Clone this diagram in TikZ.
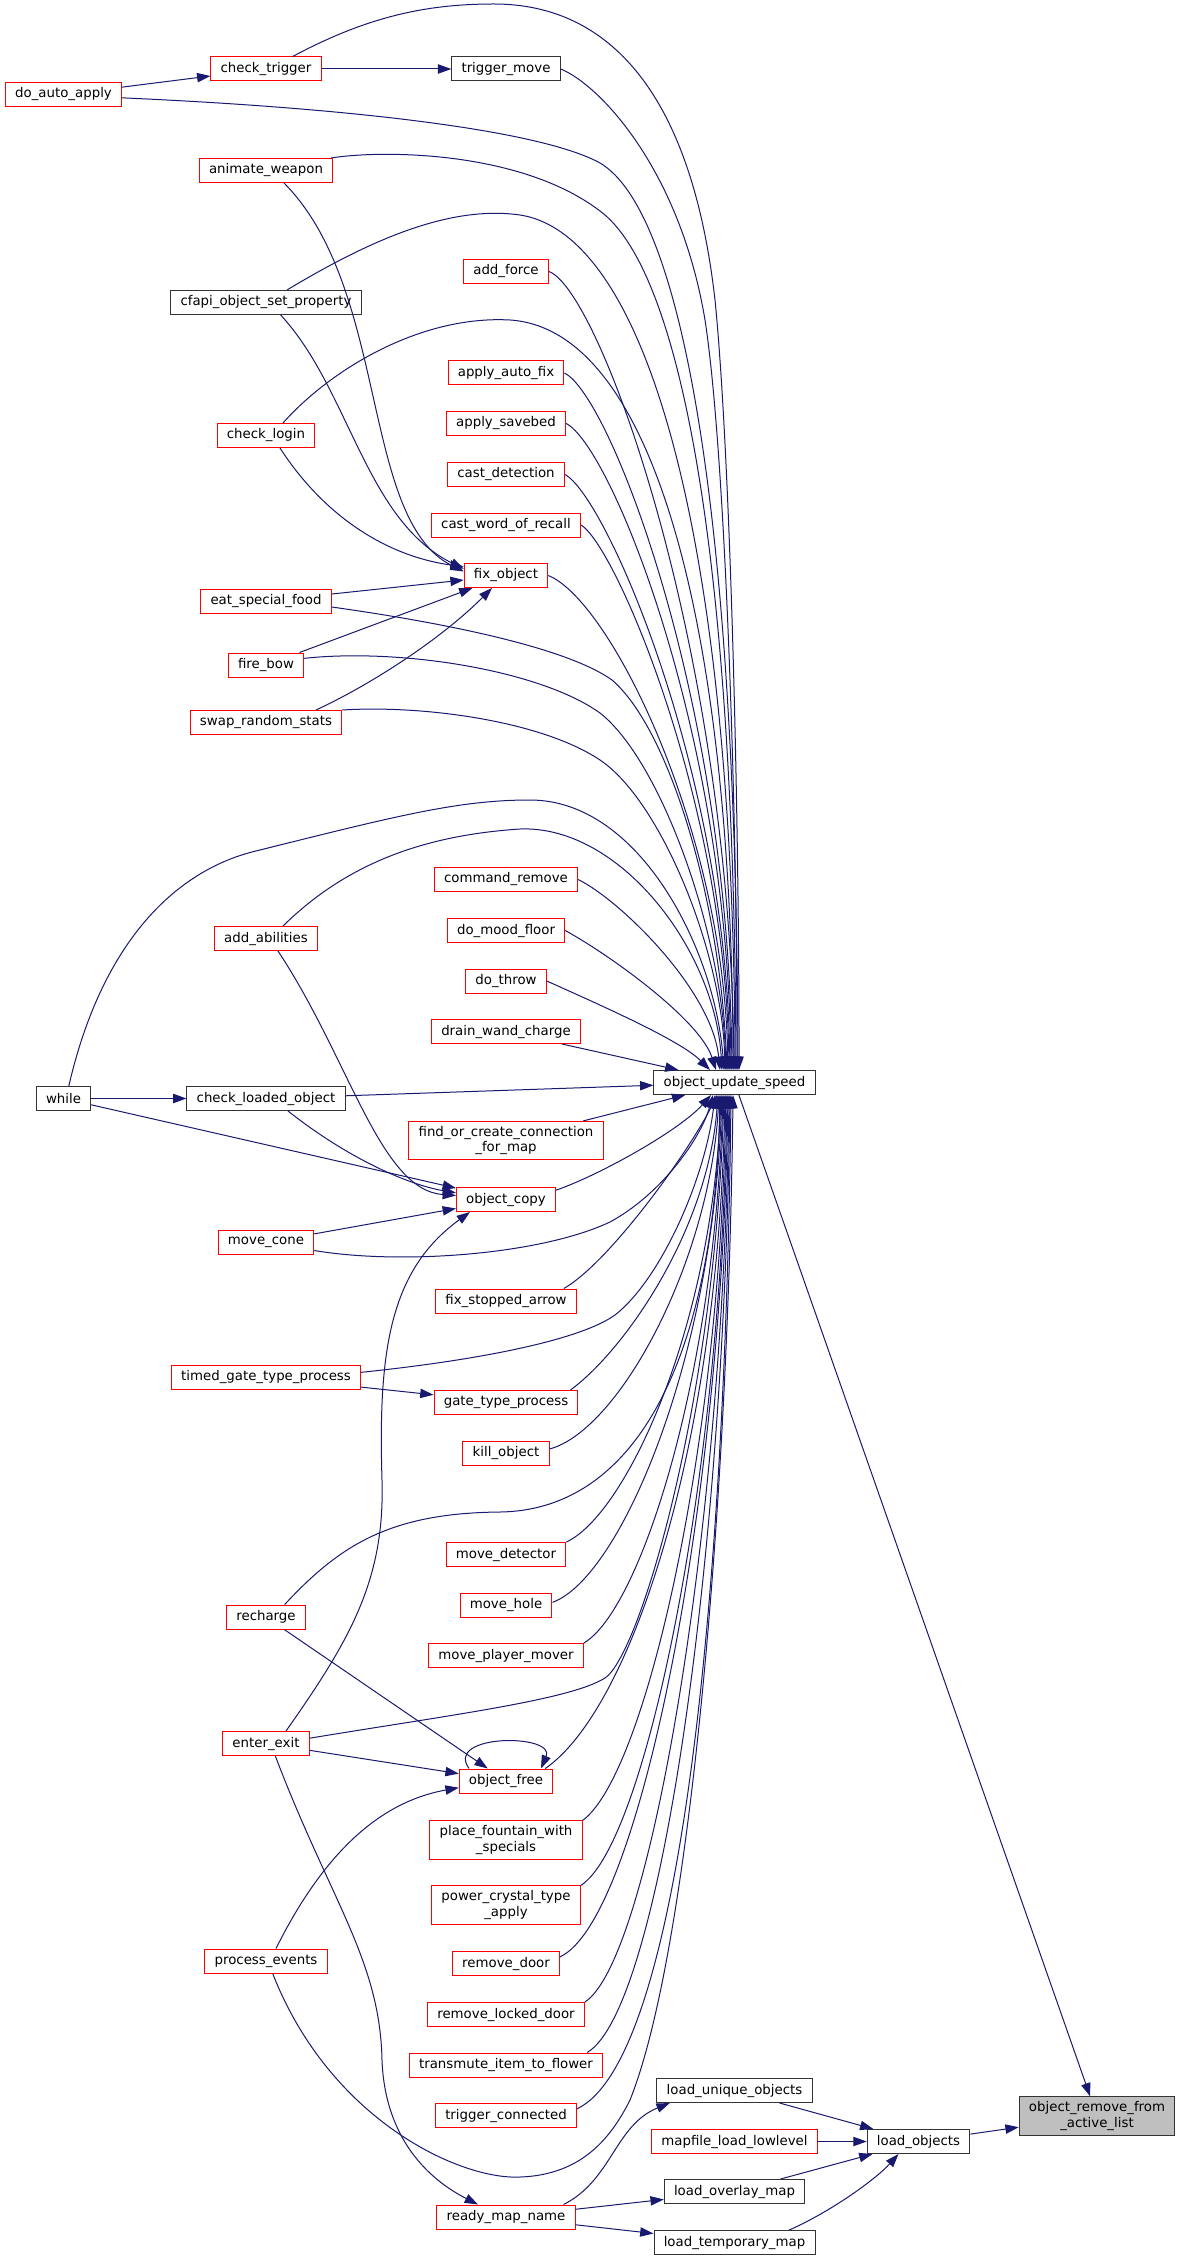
\documentclass[tikz,border=0pt]{standalone}
\usepackage{fontspec}
\setmainfont{DejaVu Sans}
\usetikzlibrary{arrows.meta}
\definecolor{edgeblue}{HTML}{191970}

\begin{document}
\begin{tikzpicture}[x=0.75pt,y=-0.75pt,
  fn/.style={draw=red,fill=white,line width=0.75pt,font=\fontsize{10}{11.5}\selectfont,
    inner xsep=7.3pt,inner ysep=3.6pt,minimum height=18pt,align=center},
  doc/.style={fn,draw=black!80},
  focus/.style={fn,draw=black!80,fill=black!25},
  call/.style={draw=edgeblue,line width=0.75pt,-{Triangle[length=10pt,width=7pt]}}]
  \fill[white] (0,0) rectangle (1181,2261);
  \useasboundingbox (0,0) rectangle (1181,2261);

  % left columns
  \node[fn] (do-auto-apply) at (63.5,94.5) {do\_auto\_apply};
  \node[doc] (while) at (63.5,1098.5) {while};
  \node[fn] (check-trigger) at (266,69) {check\_trigger};
  \node[fn] (animate-weapon) at (266,170.5) {animate\_weapon};
  \node[doc] (cfapi) at (266,302.5) {cfapi\_object\_set\_property};
  \node[fn] (check-login) at (266,435.5) {check\_login};
  \node[fn] (eat-food) at (266,601) {eat\_special\_food};
  \node[fn] (fire-bow) at (266,665) {fire\_bow};
  \node[fn] (swap-stats) at (266,722.5) {swap\_random\_stats};
  \node[fn] (add-abilities) at (266,938.5) {add\_abilities};
  \node[doc] (check-loaded) at (266,1098.5) {check\_loaded\_object};
  \node[fn] (move-cone) at (266,1242.5) {move\_cone};
  \node[fn] (timed-gate) at (266,1377) {timed\_gate\_type\_process};
  \node[fn] (recharge) at (266,1617) {recharge};
  \node[fn] (enter-exit) at (266,1743.5) {enter\_exit};
  \node[fn] (process-events) at (266,1961) {process\_events};

  % middle column
  \node[doc] (trigger-move) at (506,69) {trigger\_move};
  \node[fn] (add-force) at (506,271.5) {add\_force};
  \node[fn] (apply-fix) at (506,373) {apply\_auto\_fix};
  \node[fn] (apply-savebed) at (506,423.5) {apply\_savebed};
  \node[fn] (cast-detection) at (506,474.5) {cast\_detection};
  \node[fn] (cast-recall) at (506,525) {cast\_word\_of\_recall};
  \node[fn] (fix-object) at (506,575.5) {fix\_object};
  \node[fn] (command-remove) at (506,879.5) {command\_remove};
  \node[fn] (mood-floor) at (506,930.5) {do\_mood\_floor};
  \node[fn] (do-throw) at (506,981) {do\_throw};
  \node[fn] (drain-wand) at (506,1031.5) {drain\_wand\_charge};
  \node[fn] (find-conn) at (506,1140.5) {find\_or\_create\_connection\\\_for\_map};
  \node[fn] (object-copy) at (506,1199.5) {object\_copy};
  \node[fn] (fix-arrow) at (506,1301) {fix\_stopped\_arrow};
  \node[fn] (gate-type) at (506,1402.5) {gate\_type\_process};
  \node[fn] (kill-object) at (506,1453) {kill\_object};
  \node[fn] (move-detector) at (506,1554.5) {move\_detector};
  \node[fn] (move-hole) at (506,1605) {move\_hole};
  \node[fn] (move-mover) at (506,1655.5) {move\_player\_mover};
  \node[fn] (object-free) at (506,1781) {object\_free};
  \node[fn] (place-fountain) at (506,1840) {place\_fountain\_with\\\_specials};
  \node[fn] (power-crystal) at (506,1905) {power\_crystal\_type\\\_apply};
  \node[fn] (remove-door) at (506,1963.5) {remove\_door};
  \node[fn] (remove-locked) at (506,2014.5) {remove\_locked\_door};
  \node[fn] (transmute) at (506,2065) {transmute\_item\_to\_flower};
  \node[fn] (trigger-conn) at (506,2115.5) {trigger\_connected};
  \node[fn] (ready-map) at (506,2217) {ready\_map\_name};

  % right columns
  \node[doc] (ous) at (734.5,1082.5) {object\_update\_speed};
  \node[doc] (load-unique) at (734.5,2090.5) {load\_unique\_objects};
  \node[fn] (mapfile) at (734.5,2141.5) {mapfile\_load\_lowlevel};
  \node[doc] (load-overlay) at (734.5,2191.5) {load\_overlay\_map};
  \node[doc] (load-temp) at (734.5,2242.5) {load\_temporary\_map};
  \node[doc] (load-objects) at (918.5,2141.5) {load\_objects};
  \node[focus] (remove-active) at (1097,2116) {object\_remove\_from\\\_active\_list};

  % straight calls
  \draw[call] (do-auto-apply) -- (check-trigger);
  \draw[call] (check-trigger) -- (trigger-move);
  \draw[call] (eat-food) -- (fix-object);
  \draw[call] (fire-bow) -- (fix-object);
  \draw[call] (while) -- (check-loaded);
  \draw[call] (while) -- (object-copy);
  \draw[call] (check-loaded) -- (ous);
  \draw[call] (drain-wand) -- (ous);
  \draw[call] (find-conn) -- (ous);
  \draw[call] (move-cone) -- (object-copy);
  \draw[call] (timed-gate) -- (gate-type);
  \draw[call] (recharge) -- (object-free);
  \draw[call] (enter-exit) -- (object-free);
  \draw[call] (ous) -- (remove-active);
  \draw[call] (load-objects) -- (remove-active);
  \draw[call] (load-unique) -- (load-objects);
  \draw[call] (mapfile) -- (load-objects);
  \draw[call] (load-overlay) -- (load-objects);
  \draw[call] (ready-map) -- (load-overlay);
  \draw[call] (ready-map) -- (load-temp);

  % calls into object_update_speed from above
  \draw[call] ([xshift=20pt]check-trigger.north) .. controls (370,15) and (430,4) .. (494,4)
    .. controls (600,4) and (690,80) .. (715,300) .. controls (730,450) and (739,800) .. ([xshift=3.4pt]ous.north);
  \draw[call] (trigger-move.east) .. controls (600,85) and (680,170) .. (705,320)
    .. controls (725,450) and (737,800) .. ([xshift=1.9pt]ous.north);
  \draw[call] ([yshift=-2.5pt]do-auto-apply.east) .. controls (350,108) and (540,130) .. (600,163)
    .. controls (680,210) and (736,500) .. ([xshift=2.6pt]ous.north);
  \draw[call] ([xshift=-1.5pt]animate-weapon.north east) .. controls (380,150) and (520,150) .. (600,211)
    .. controls (680,270) and (734,550) .. ([xshift=1.1pt]ous.north);
  \draw[call] ([xshift=15.75pt]cfapi.north) .. controls (370,240) and (450,205) .. (520,215)
    .. controls (650,235) and (733,550) .. ([xshift=0.4pt]ous.north);
  \draw[call] (add-force.east) .. controls (600,290) and (730,650) .. ([xshift=-0.4pt]ous.north);
  \draw[call] ([xshift=12.75pt]check-login.north) .. controls (330,370) and (420,315) .. (510,320)
    .. controls (660,330) and (732,650) .. ([xshift=-1.1pt]ous.north);
  \draw[call] (apply-fix.east) .. controls (610,395) and (728,700) .. ([xshift=-1.9pt]ous.north);
  \draw[call] (apply-savebed.east) .. controls (610,445) and (727,730) .. ([xshift=-2.6pt]ous.north);
  \draw[call] (cast-detection.east) .. controls (605,495) and (726,770) .. ([xshift=-3.4pt]ous.north);
  \draw[call] (cast-recall.east) .. controls (615,545) and (725,800) .. ([xshift=-4.1pt]ous.north);
  \draw[call] (fix-object.east) .. controls (610,600) and (724,830) .. ([xshift=-4.9pt]ous.north);
  \draw[call] ([yshift=-4.5pt]eat-food.east) .. controls (460,625) and (570,650) .. (612,680)
    .. controls (670,730) and (720,900) .. ([xshift=-5.6pt]ous.north);
  \draw[call] ([yshift=5pt]fire-bow.east) .. controls (400,648) and (540,670) .. (600,713)
    .. controls (660,760) and (722,930) .. ([xshift=-6.4pt]ous.north);
  \draw[call] (swap-stats.north east) .. controls (420,705) and (540,720) .. (600,760)
    .. controls (660,800) and (722,950) .. ([xshift=-7.1pt]ous.north);
  \draw[call] ([xshift=4pt]while.north) .. controls (100,950) and (170,870) .. (260,850)
    .. controls (400,815) and (460,800) .. (530,800) .. controls (640,800) and (715,950) .. ([xshift=-7.9pt]ous.north);
  \draw[call] ([xshift=12.75pt]add-abilities.north) .. controls (350,860) and (430,835) .. (520,829)
    .. controls (620,825) and (715,950) .. ([xshift=-9.4pt]ous.north);
  \draw[call] (command-remove.east) .. controls (620,900) and (712,990) .. ([xshift=-10.9pt]ous.north);
  \draw[call] (mood-floor.east) .. controls (610,955) and (700,1020) .. ([xshift=-13.9pt]ous.north);
  \draw[call] (do-throw.east) .. controls (600,1005) and (680,1040) .. ([xshift=-18.4pt]ous.north);

  % calls into object_update_speed from below
  \draw[call] ([yshift=7pt]object-copy.east) .. controls (600,1175) and (680,1130) .. ([xshift=-17.6pt]ous.south);
  \draw[call] ([yshift=-6pt]move-cone.east) .. controls (400,1265) and (540,1255) .. (610,1222)
    .. controls (660,1195) and (700,1140) .. ([xshift=-16.1pt]ous.south);
  \draw[call] ([yshift=3.5pt]timed-gate.east) .. controls (480,1360) and (580,1340) .. (615,1315)
    .. controls (660,1280) and (705,1180) .. ([xshift=-14.6pt]ous.south);
  \draw[call] ([xshift=-9.75pt]fix-arrow.north east) .. controls (610,1262) and (690,1150) .. ([xshift=-13.1pt]ous.south);
  \draw[call] ([xshift=-6pt]gate-type.north east) .. controls (625,1350) and (708,1230) .. ([xshift=-12.4pt]ous.south);
  \draw[call] ([yshift=3pt]kill-object.east) .. controls (620,1430) and (710,1260) .. ([xshift=-11.6pt]ous.south);
  \draw[call] ([xshift=14pt]recharge.north) .. controls (340,1545) and (390,1513) .. (500,1512)
    .. controls (640,1510) and (715,1350) .. ([xshift=-10.9pt]ous.south);
  \draw[call] (move-detector.north east) .. controls (625,1515) and (712,1330) .. ([xshift=-10.1pt]ous.south);
  \draw[call] ([yshift=2pt]move-hole.east) .. controls (620,1578) and (713,1360) .. ([xshift=-9.4pt]ous.south);
  \draw[call] (move-mover.north east) .. controls (640,1610) and (714,1380) .. ([xshift=-8.6pt]ous.south);
  \draw[call] ([yshift=4pt]enter-exit.east) .. controls (450,1715) and (570,1700) .. (605,1678)
    .. controls (640,1655) and (715,1400) .. ([xshift=-7.9pt]ous.south);
  \draw[call] ([xshift=-6pt]object-free.north east) .. controls (630,1710) and (718,1450) .. ([xshift=-7.1pt]ous.south);
  \draw[call] (place-fountain.north east) .. controls (645,1775) and (720,1450) .. ([xshift=-6.4pt]ous.south);
  \draw[call] (power-crystal.north east) .. controls (645,1845) and (721,1480) .. ([xshift=-5.6pt]ous.south);
  \draw[call] ([yshift=5pt]remove-door.east) .. controls (640,1920) and (722,1500) .. ([xshift=-4.9pt]ous.south);
  \draw[call] (remove-locked.north east) .. controls (650,1960) and (723,1530) .. ([xshift=-4.1pt]ous.south);
  \draw[call] ([xshift=-12pt]transmute.north east) .. controls (660,2010) and (724,1560) .. ([xshift=-3.4pt]ous.south);
  \draw[call] ([yshift=5pt]trigger-conn.east) .. controls (680,2060) and (725,1600) .. ([xshift=-2.6pt]ous.south);
  \draw[call] ([xshift=5pt]process-events.south) .. controls (330,2120) and (460,2180) .. (520,2177)
    .. controls (580,2175) and (610,2140) .. (630,2100) .. controls (690,1950) and (728,1500) .. ([xshift=-1.1pt]ous.south);

  % other calls
  \draw[call] ([xshift=13.5pt]animate-weapon.south) .. controls (390,290) and (360,520) .. ([yshift=3pt]fix-object.west);
  \draw[call] ([xshift=11pt]cfapi.south) .. controls (350,390) and (365,520) .. ([yshift=5pt]fix-object.west);
  \draw[call] ([xshift=10.5pt]check-login.south) .. controls (320,510) and (380,555) .. ([yshift=6.5pt]fix-object.west);
  \draw[call] ([xshift=37.5pt]swap-stats.north) .. controls (370,685) and (440,640) .. ([xshift=-10.5pt]fix-object.south);
  \draw[call] ([xshift=9pt]add-abilities.south) .. controls (350,1060) and (380,1190) .. ([yshift=3pt]object-copy.west);
  \draw[call] ([xshift=16.5pt]check-loaded.south) .. controls (350,1160) and (410,1185) .. ([yshift=5pt]object-copy.west);
  \draw[call] ([xshift=15pt]enter-exit.north) .. controls (350,1640) and (385,1580) .. (382,1480)
    .. controls (378,1350) and (390,1270) .. ([xshift=-27pt]object-copy.south);
  \draw[call] ([xshift=7pt]enter-exit.south) .. controls (330,1900) and (380,1960) .. (382,2060)
    .. controls (385,2140) and (430,2180) .. ([xshift=-21pt]ready-map.north);
  \draw[call] ([xshift=-27.75pt]object-free.north) .. controls +(-25,-35) and +(15,-35) .. ([xshift=26.25pt]object-free.north);
  \draw[call] ([xshift=7.5pt]process-events.north) .. controls (330,1840) and (390,1800) .. ([yshift=-5pt]object-free.west);
  \draw[call] ([xshift=-9pt]ready-map.north east) .. controls (612,2180) and (615,2125) .. ([xshift=10pt]load-unique.south west);
  \draw[call] ([xshift=41pt]load-temp.north) .. controls (830,2212) and (875,2180) .. ([xshift=-15pt]load-objects.south);
\end{tikzpicture}
\end{document}
